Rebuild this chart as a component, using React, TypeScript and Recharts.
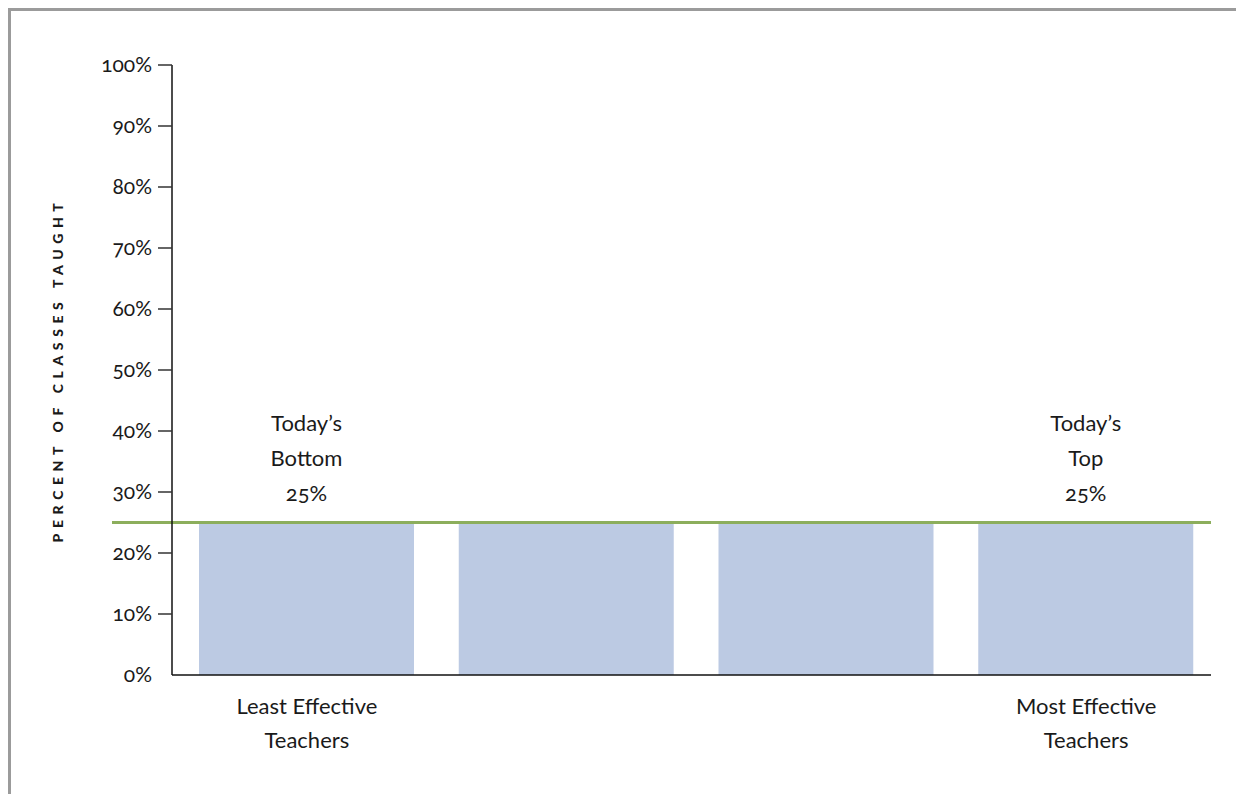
import { Bar, BarChart, LabelList, ReferenceLine, XAxis, YAxis } from "recharts"

const FONT = "Lato, 'Noto Sans', sans-serif"
const BAR_FILL = "#bccae3"
const LINE_GREEN = "#8cae5c"

// quartiles of teachers, by effectiveness
const quartiles = ["Least Effective\nTeachers", "", "", "Most Effective\nTeachers"]
const classShare = [25, 25, 25, 25]
const topNotes = ["Today’s\nBottom\n25%", "", "", "Today’s\nTop\n25%"]
const yTicks = [0, 10, 20, 30, 40, 50, 60, 70, 80, 90, 100]
const todayLevel = 25

const data = quartiles.map((q, i) => ({ quartile: q, share: classShare[i], note: topNotes[i] }))

function YTick({ x, y, payload }: any) {
  return (
    <g>
      <text
        x={x}
        y={y - 2}
        textAnchor="end"
        dominantBaseline="central"
        fontFamily={FONT}
        fontSize={21}
        fill="#1a1a1a"
        style={{ fontVariantNumeric: "oldstyle-nums" }}
      >
        {payload.value}%
      </text>
      {payload.value !== 0 && (
        <line x1={x + 6} x2={x + 20} y1={y} y2={y} stroke="#333" strokeWidth={1.5} />
      )}
    </g>
  )
}

function XTick({ x, y, payload }: any) {
  const lines = String(payload.value).split("\n")
  return (
    <text x={x} y={y} textAnchor="middle" fontFamily={FONT} fontSize={22} fill="#1a1a1a">
      {lines.map((l, i) => (
        <tspan key={i} x={x} dy={i === 0 ? 31 : 34}>
          {l}
        </tspan>
      ))}
    </text>
  )
}

function NoteLabel({ x, y, width, value }: any) {
  if (!value) return null
  const lines = String(value).split("\n")
  const cx = x + width / 2
  return (
    <text x={cx} y={y} textAnchor="middle" fontFamily={FONT} fontSize={22} fill="#1a1a1a" style={{ fontVariantNumeric: "oldstyle-nums" }}>
      {lines.map((l, i) => (
        <tspan key={i} x={cx} dy={i === 0 ? -92 : 35}>
          {l}
        </tspan>
      ))}
    </text>
  )
}

function YTitle({ viewBox }: any) {
  const cx = viewBox.x + 46
  const cy = viewBox.y + viewBox.height / 2
  return (
    <text
      x={cx}
      y={cy}
      transform={`rotate(-90, ${cx}, ${cy})`}
      textAnchor="middle"
      dominantBaseline="central"
      fontFamily={FONT}
      fontSize={14}
      fontWeight={900}
      letterSpacing={5.6}
      fill="#1a1a1a"
    >
      PERCENT OF CLASSES TAUGHT
    </text>
  )
}

export default function App() {
  return (
    <div
      style={{
        width: 1233,
        height: 783,
        borderTop: "3px solid #9b9b9b",
        borderLeft: "3px solid #9b9b9b",
        background: "#fff",
      }}
    >
      <BarChart width={1225} height={775} data={data} margin={{ top: 54, right: 25, left: 0, bottom: 0 }}>
        <XAxis
          dataKey="quartile"
          interval={0}
          height={111}
          tickLine={false}
          axisLine={{ stroke: "#111", strokeWidth: 1.5 }}
          padding={{ left: 5, right: -5 }}
          tick={<XTick />}
        />
        <YAxis
          width={161}
          domain={[0, 100]}
          ticks={yTicks}
          interval={0}
          tickLine={false}
          tickSize={0}
          tickMargin={20}
          axisLine={{ stroke: "#111", strokeWidth: 1.5 }}
          tick={<YTick />}
          label={<YTitle />}
        />
        <Bar dataKey="share" fill={BAR_FILL} barSize={215} isAnimationActive={false}>
          <LabelList dataKey="note" content={<NoteLabel />} />
        </Bar>
        <ReferenceLine
          y={todayLevel}
          shape={(p: any) => (
            <line x1={p.x1 - 60} x2={p.x2} y1={p.y1} y2={p.y2} stroke={LINE_GREEN} strokeWidth={3} />
          )}
        />
      </BarChart>
    </div>
  )
}
